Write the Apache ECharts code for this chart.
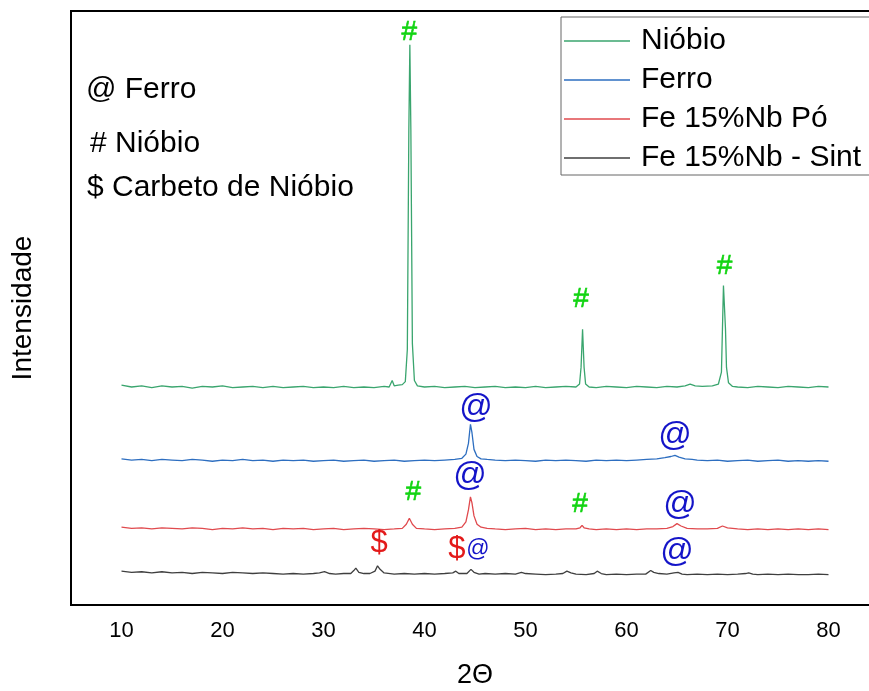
<!DOCTYPE html>
<html>
<head>
<meta charset="utf-8">
<script src="https://cdn.jsdelivr.net/npm/echarts@6/dist/echarts.min.js"></script>
<style>
  html, body { margin: 0; padding: 0; background: #fff; }
  #main { width: 869px; height: 691px; }
</style>
</head>
<body>
<div id="main"></div>
<script>
// 2-theta tick labels
const tickLabels = [10, 20, 30, 40, 50, 60, 70, 80];

// traces, [2theta, intensity] (offset stacked, arbitrary units)
const niobio = [
  [10,370],[11,367],[12,369],[13,366],[14,369],[15,367],[16,368],[17,365],[18,368],[19,367],
  [20,369],[21,366],[22,367],[23,368],[24,366],[25,368],[26,366],[27,367],[28,368],[29,366],
  [30,367],[31,366],[32,368],[33,366],[34,367],[35,366],[36,368],[36.5,367],[36.8,378],[37.0,369],
  [37.4,370],[37.8,371],[38.1,376],[38.3,430],[38.45,800],[38.55,943],[38.65,800],[38.8,440],[39.0,378],[39.3,369],
  [40,367],[41,368],[42,366],[43,367],[44,368],[45,366],[46,367],[47,368],[48,366],[49,367],
  [50,366],[51,368],[52,366],[53,367],[54,368],[55,367],[55.35,372],[55.5,400],[55.65,464],[55.8,400],
  [55.95,372],[56.3,367],[57,366],[58,368],[59,367],[60,366],[61,368],[62,367],[63,366],[64,368],
  [65,367],[65.8,369],[66.3,372],[66.8,369],[67.5,368],[68.5,369],[69.1,372],[69.4,392],[69.6,538],[69.8,465],
  [69.9,400],[70.1,374],[70.5,368],[71,367],[72,366],[73,368],[74,367],[75,366],[76,368],[77,367],
  [78,366],[79,368],[80,367]
];
const ferro = [
  [10,246],[11,244],[12,245],[13,243],[14,245],[15,244],[16,243],[17,245],[18,244],[19,242],
  [20,244],[21,243],[22,245],[23,243],[24,244],[25,242],[26,244],[27,243],[28,244],[29,242],
  [30,243],[31,244],[32,242],[33,243],[34,244],[35,242],[36,243],[37,244],[38,242],[39,243],
  [40,244],[41,243],[42,244],[43,245],[43.7,247],[44.1,254],[44.35,272],[44.55,304],[44.7,290],[44.9,262],
  [45.2,250],[45.6,246],[46.2,245],[47,244],[48,243],[49,244],[50,243],[51,242],[52,244],[53,243],
  [54,244],[55,243],[56,242],[57,244],[58,243],[59,244],[60,243],[61,244],[62,245],[63,246],
  [63.8,248],[64.4,250],[64.8,252],[65.2,249],[65.8,246],[66.5,245],[67,244],[68,243],[69,244],[70,242],
  [71,243],[72,244],[73,242],[74,243],[75,244],[76,242],[77,243],[78,242],[79,243],[80,242]
];
const fePo = [
  [10,131],[11,129],[12,130],[13,128],[14,130],[15,129],[16,128],[17,130],[18,129],[19,127],
  [20,129],[21,128],[22,130],[23,128],[24,129],[25,127],[26,129],[27,128],[28,129],[29,127],
  [30,128],[31,129],[32,127],[33,128],[34,129],[35,128],[36,127],[37,128],[37.8,129],[38.2,136],
  [38.5,146],[38.8,136],[39.2,129],[40,128],[41,127],[42,128],[43,129],[43.7,131],[44.1,140],[44.35,160],
  [44.55,182],[44.7,172],[44.9,150],[45.2,136],[45.6,131],[46.2,129],[47,128],[48,127],[49,128],[50,129],
  [51,127],[52,128],[53,127],[54,128],[55,128],[55.4,130],[55.6,134],[55.8,130],[56.3,128],[57,127],
  [58,128],[59,127],[60,128],[61,127],[62,128],[63,128],[64,129],[64.6,132],[65,137],[65.4,133],
  [66,129],[67,128],[68,128],[69,129],[69.5,133],[70,130],[71,128],[72,127],[73,128],[74,127],
  [75,128],[76,127],[77,128],[78,127],[79,128],[80,127]
];
const feSint = [
  [10,57],[11,55],[12,56],[13,54],[14,56],[15,54],[16,55],[17,53],[18,55],[19,54],
  [20,53],[21,55],[22,54],[23,53],[24,54],[25,53],[26,52],[27,53],[28,52],[29,53],
  [29.6,54],[30.1,56],[30.6,53],[31.2,52],[32,53],[32.7,53],[33.0,58],[33.2,62],[33.5,55],[34,53],
  [34.6,53],[35.1,57],[35.35,66],[35.6,60],[36,54],[37,52],[38,53],[39,52],[40,53],[41,52],
  [42,53],[42.8,54],[43.1,57],[43.4,53],[44.2,53],[44.6,60],[44.9,55],[45.4,52],[46,53],[47,52],
  [48,53],[49,52],[49.6,55],[50,53],[51,52],[52,51],[53,52],[53.7,53],[54.1,57],[54.5,54],
  [55,52],[56,51],[56.8,53],[57.1,57],[57.5,53],[58,51],[59,52],[60,51],[61,52],[61.9,52],
  [62.4,58],[62.7,55],[63.2,53],[64,52],[64.7,54],[65.1,55],[65.5,52],[66,51],[67,52],[68,51],
  [69,52],[70,51],[71,52],[71.8,53],[72.1,54],[72.5,52],[73,51],[74,52],[75,51],[76,52],
  [77,51],[78,51],[79,52],[80,51]
];

// phase markers over the peaks
const annX = [38.5, 55.5, 69.7, 45.1, 64.8, 44.5, 38.9, 55.4, 65.3, 35.5, 43.2, 45.3, 65.0];
const annY = [965, 514, 571, 331, 284, 218, 190, 170, 168, 103, 94, 94, 89];
const annKind = ['nb','nb','nb','fe','fe','fe','nb','nb','fe','nbc','nbc','feSmall','fe'];

const seriesNames = ['Nióbio', 'Ferro', 'Fe 15%Nb Pó', 'Fe 15%Nb - Sint'];
const phaseNotes = ['@ Ferro', '# Nióbio', '$ Carbeto de Nióbio'];

const FONT = '"Liberation Sans", Arial, sans-serif';
const kindStyle = {
  nb: { text: '#', color: '#12d412', fontSize: 28, border: 0.6 },
  fe: { text: '@', color: '#1414c8', fontSize: 33, border: 0 },
  feSmall: { text: '@', color: '#1414c8', fontSize: 23, border: 0 },
  nbc: { text: '$', color: '#e31a1a', fontSize: 31, border: 0 }
};

const chart = echarts.init(document.getElementById('main'));

function lineSeries(name, data, color) {
  return {
    name: name,
    type: 'line',
    data: data,
    symbol: 'none',
    lineStyle: { color: color, width: 1.3 },
    itemStyle: { color: color },
    silent: true
  };
}

const markers = annX.map((x, i) => {
  const s = kindStyle[annKind[i]];
  return {
    value: [x, annY[i]],
    label: {
      show: true,
      position: 'inside',
      formatter: s.text,
      color: s.color,
      fontSize: s.fontSize,
      fontFamily: FONT,
      textBorderColor: s.color,
      textBorderWidth: s.border
    }
  };
});

chart.setOption({
  animation: false,
  backgroundColor: '#fff',
  grid: {
    left: 71, top: 11, right: -10, bottom: 86,
    containLabel: false,
    outerBoundsMode: 'none',
    show: true, borderColor: '#000', borderWidth: 2
  },
  legend: {
    data: seriesNames,
    orient: 'vertical',
    left: 561, top: 17,
    icon: 'rect',
    itemWidth: 66, itemHeight: 1.5, itemGap: 5,
    padding: [7, 10, 0, 3],
    borderColor: '#666', borderWidth: 1,
    textStyle: { fontSize: 30, fontFamily: FONT, color: '#000', lineHeight: 34, padding: [0, 0, 0, 6] }
  },
  xAxis: {
    type: 'value',
    min: 5, max: 85,
    name: '2Θ',
    nameLocation: 'middle',
    nameGap: 57,
    nameTextStyle: { fontSize: 27, fontFamily: FONT, color: '#000' },
    axisLine: { lineStyle: { color: '#000', width: 2 } },
    axisTick: { show: false },
    splitLine: { show: false },
    axisLabel: { customValues: tickLabels, fontSize: 22, fontFamily: FONT, color: '#000', margin: 15 }
  },
  yAxis: {
    type: 'value',
    min: 0, max: 1000,
    name: 'Intensidade',
    nameLocation: 'middle',
    nameGap: 34,
    nameTextStyle: { fontSize: 28, fontFamily: FONT, color: '#000' },
    axisLine: { show: true, lineStyle: { color: '#000', width: 2 } },
    axisTick: { show: false },
    axisLabel: { show: false },
    splitLine: { show: false }
  },
  graphic: phaseNotes.map((t, i) => ({
    type: 'text',
    x: [86, 90, 87][i],
    y: [90, 144, 188][i],
    style: { text: t, font: '30px ' + FONT, fill: '#000', verticalAlign: 'middle' }
  })),
  series: [
    lineSeries(seriesNames[0], niobio, '#3aa56e'),
    lineSeries(seriesNames[1], ferro, '#2d6ec0'),
    lineSeries(seriesNames[2], fePo, '#e04a4e'),
    lineSeries(seriesNames[3], feSint, '#3f3f3f'),
    {
      name: 'marcadores',
      type: 'scatter',
      data: markers,
      symbolSize: 1,
      itemStyle: { color: 'rgba(0,0,0,0)', opacity: 1 },
      silent: true,
      z: 5
    }
  ]
});

window.addEventListener('resize', () => chart.resize());
</script>
</body>
</html>
